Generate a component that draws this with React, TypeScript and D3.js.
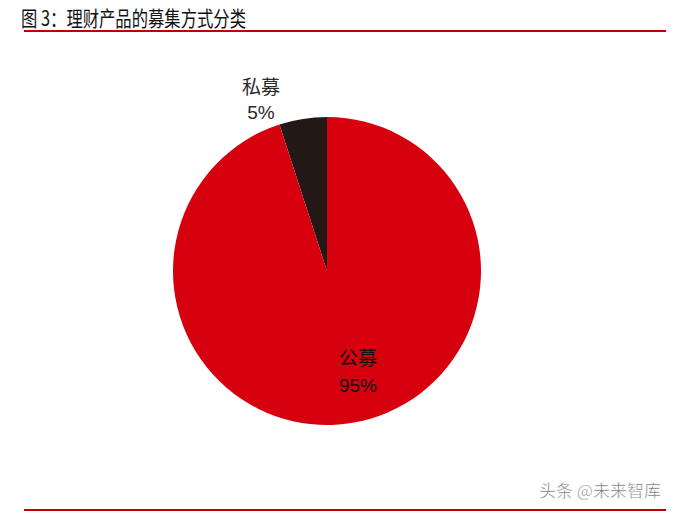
import React from "react";
import * as d3 from "d3";

const categories = ["私募", "公募"];
const shares = [5, 95];
const sliceColors = ["#231815", "#D7000F"];
const titleText = "图 3：理财产品的募集方式分类";

const W = 676;
const H = 514;

export default function App() {
  const cx = 327;
  const cy = 271;
  const r = 154;
  const pie = d3
    .pie<number>()
    .sort(null)
    .startAngle(-(shares[0] / 100) * 2 * Math.PI)
    .endAngle(2 * Math.PI - (shares[0] / 100) * 2 * Math.PI)
    .value((d) => d);
  const arcs = pie(shares);
  const arc = d3.arc<d3.PieArcDatum<number>>().innerRadius(0).outerRadius(r);
  const font = "'Noto Sans CJK SC', 'Liberation Sans', Arial, sans-serif";
  const labelPos = [
    { x: 261, y1: 94, y2: 119, color: "#2a2a2a" },
    { x: 358, y1: 365, y2: 392, color: "#111" },
  ];
  return (
    <svg
      width={W}
      height={H}
      style={{ position: "absolute", left: 0, top: 0, background: "#fff" }}
      fontFamily={font}
    >
      <text
        x={21}
        y={26}
        fontSize={21}
        fill="#111"
        textLength={225}
        lengthAdjust="spacingAndGlyphs"
      >
        {titleText}
      </text>
      <line x1={24} x2={666} y1={31} y2={31} stroke="#C00000" strokeWidth={2} />
      <g transform={`translate(${cx},${cy})`}>
        {arcs.map((a, i) => (
          <path key={i} d={arc(a) || ""} fill={sliceColors[i]} />
        ))}
      </g>
      {categories.map((c, i) => (
        <g key={c} fill={labelPos[i].color} fontSize={19} textAnchor="middle">
          <text x={labelPos[i].x} y={labelPos[i].y1}>
            {c}
          </text>
          <text x={labelPos[i].x} y={labelPos[i].y2} fontFamily="'Liberation Sans', Arial, sans-serif">
            {shares[i]}%
          </text>
        </g>
      ))}
      <text
        x={539}
        y={497}
        fontSize={17}
        fill="#555"
        stroke="#fff"
        strokeWidth={0.5}
        opacity={0.85}
      >
        头条 @未来智库
      </text>
      <line x1={24} x2={666} y1={510} y2={510} stroke="#C00000" strokeWidth={2} />
    </svg>
  );
}
